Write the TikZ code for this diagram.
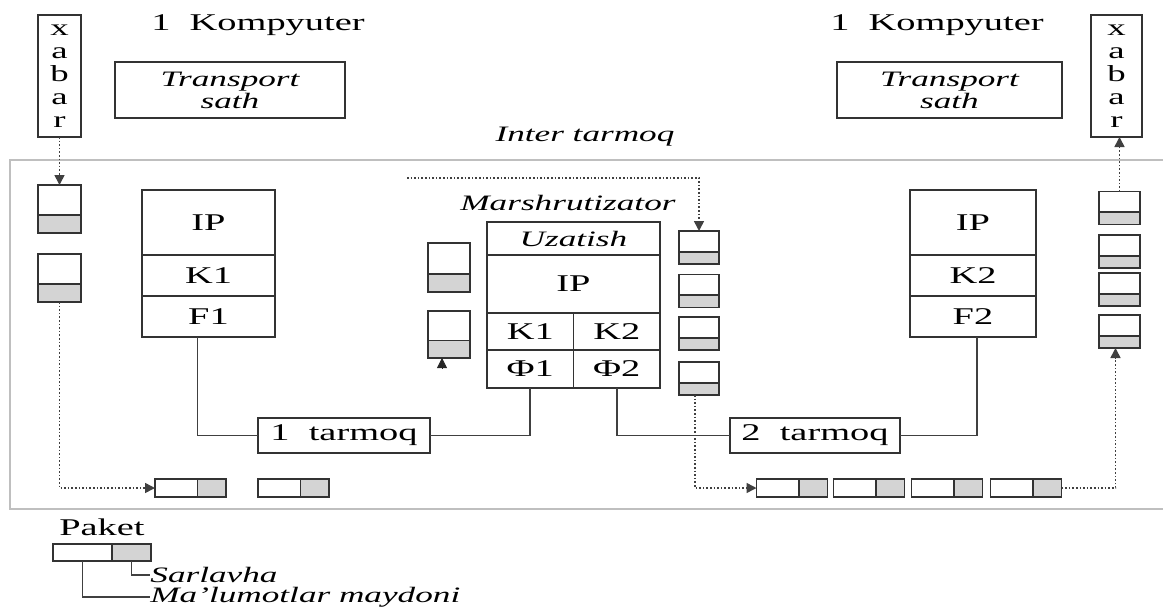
\documentclass[tikz,border=0pt]{standalone}
\usepackage{fontspec}
\setmainfont[FakeStretch=1.6]{Liberation Serif}
\usepackage{tikz}
\usetikzlibrary{positioning,calc,arrows.meta}

\begin{document}
\begin{tikzpicture}[x=0.5pt, y=-0.5pt,
every node/.style={font=\fontsize{12}{13}\selectfont, inner sep=0pt},
box/.style={draw=black!80, line width=0.8pt, outer sep=0pt},
lbl/.style={font=\fontsize{11}{11}\selectfont\itshape, align=center},
conn/.style={draw=black!75, line width=0.8pt},
flow/.style={draw=black!75, line width=0.8pt, densely dotted, -{Triangle[length=5pt,width=5pt]}},
tip/.style={draw=black!85, -{Triangle[length=5pt,width=5pt]}},
vpak/.style={box, minimum width=20.5pt, minimum height=#1,
    path picture={
        \fill[black!17] (path picture bounding box.south west) rectangle ($(path picture bounding box.south east)!0.37!(path picture bounding box.north east)$);
        \draw[black!80, line width=0.8pt] ($(path picture bounding box.south west)!0.37!(path picture bounding box.north west)$) -- ($(path picture bounding box.south east)!0.37!(path picture bounding box.north east)$);
    }},
vpak/.default=16.5pt,
hpak/.style={box, minimum width=35.5pt, minimum height=9pt,
    path picture={
        \fill[black!17] ($(path picture bounding box.south west)!0.6!(path picture bounding box.south east)$) rectangle (path picture bounding box.north east);
        \draw[black!80, line width=0.8pt] ($(path picture bounding box.south west)!0.6!(path picture bounding box.south east)$) -- ($(path picture bounding box.north west)!0.6!(path picture bounding box.north east)$);
    }}]
\useasboundingbox (0,0) rectangle (1163,606);

\node (komL) at (258,25) {1\ \ Kompyuter};
\node (komR) at (937,25) {1\ \ Kompyuter};
\node[box, minimum width=21.5pt, minimum height=61pt, align=center, font=\fontsize{11.5}{11.5}\selectfont] (xabarL) at (59.5,76) {x\\a\\b\\a\\r};
\node[box, minimum width=25.5pt, minimum height=61pt, align=center, font=\fontsize{11.5}{11.5}\selectfont] (xabarR) at (1116.5,76) {x\\a\\b\\a\\r};
\node[box, lbl, minimum width=115pt, minimum height=28pt] (trL) at (230,90) {Transport\\sath};
\node[box, lbl, minimum width=112.5pt, minimum height=28pt] (trR) at (949.5,90) {Transport\\sath};
\node[lbl] (inter) at (585,137) {Inter tarmoq};

\draw[black!25, line width=1pt] (1163,160) -- (10,160) -- (10,509) -- (1163,509);

\node[box, minimum width=66.5pt, minimum height=32.5pt] (ipL) at (208.5,222.5) {IP};
\node[box, minimum width=66.5pt, minimum height=20.5pt, below=0pt of ipL] (k1L) {K1};
\node[box, minimum width=66.5pt, minimum height=20.5pt, below=0pt of k1L] (f1L) {F1};

\node[box, minimum width=63pt, minimum height=32.5pt] (ipR) at (973,222.5) {IP};
\node[box, minimum width=63pt, minimum height=20.5pt, below=0pt of ipR] (k2R) {K2};
\node[box, minimum width=63pt, minimum height=20.5pt, below=0pt of k2R] (f2R) {F2};

\node[lbl] (marsh) at (568,203) {Marshrutizator};
\node[box, lbl, minimum width=86.5pt, minimum height=16.5pt] (uzM) at (573.5,238.5) {Uzatish};
\node[box, minimum width=86.5pt, minimum height=29pt, below=0pt of uzM] (ipM) {IP};
\node[box, minimum width=43.25pt, minimum height=18.5pt, anchor=north west] (k1M) at (ipM.south west) {K1};
\node[box, minimum width=43.25pt, minimum height=18.5pt, anchor=north east] (k2M) at (ipM.south east) {K2};
\node[box, minimum width=43.25pt, minimum height=19pt, below=0pt of k1M] (phi1) {Φ1};
\node[box, minimum width=43.25pt, minimum height=19pt, below=0pt of k2M] (phi2) {Φ2};

\node[vpak=24pt, minimum width=21.5pt] (pkL1) at (59.5,209) {};
\node[vpak=24pt, minimum width=21.5pt] (pkL2) at (59.5,278) {};
\node[vpak=24.5pt, minimum width=21pt] (pkC1) at (449,267.5) {};
\node[vpak=23.5pt, minimum width=21pt] (pkC2) at (449,334.5) {};
\foreach \y [count=\i] in {247.5,291,333.5,378.5}
    \node[vpak, minimum width=20pt] (pkM\i) at (699,\y) {};
\foreach \y [count=\i] in {208,251.5,289.5,331.5}
    \node[vpak] (pkR\i) at (1119.5,\y) {};

\node[hpak] (hpL1) at (190.5,488) {};
\node[hpak] (hpL2) at (293.5,488) {};
\foreach \x [count=\i] in {792,869,947,1026}
    \node[hpak] (hpR\i) at (\x,488) {};

\node[box, minimum width=86pt, minimum height=17.5pt] (net1) at (344,435.5) {1\ \ tarmoq};
\node[box, minimum width=85pt, minimum height=17.5pt] (net2) at (815,435.5) {2\ \ tarmoq};

\draw[conn] ([xshift=-5.5pt]f1L.south) |- (net1.west);
\draw[conn] (net1.east) -| (phi1.south);
\draw[conn] (phi2.south) |- (net2.west);
\draw[conn] (net2.east) -| ([xshift=2pt]f2R.south);

\coordinate (feed) at (407,178);
\draw[flow] (xabarL.south) -- (pkL1.north);
\draw[flow] (pkL2.south) |- (hpL1.west);
\draw[flow] (feed) -| (pkM1.north);
\draw[flow] ([xshift=-2pt]pkM4.south) |- (hpR1.west);
\draw[flow] (hpR4.east) -| ([xshift=-2pt]pkR4.south);
\draw[flow] (pkR1.north) -- (pkR1.north |- xabarR.south);
\draw[tip] ([xshift=-3.5pt,yshift=-5pt]pkC2.south) -- ([xshift=-3.5pt]pkC2.south);

\node (paket) at (102,527) {Paket};
\node[hpak, minimum width=49pt, minimum height=8.5pt] (legpak) at (102,552.5) {};
\node[lbl, anchor=west] (sarl) at (150,575) {Sarlavha};
\node[lbl, anchor=west] (malum) at (150,597) {Ma'lumotlar maydoni};
\draw[conn] ($(legpak.south west)!0.8!(legpak.south east)$) |- (sarl.west);
\draw[conn] ($(legpak.south west)!0.3!(legpak.south east)$) |- (malum.west);
\end{tikzpicture}
\end{document}
